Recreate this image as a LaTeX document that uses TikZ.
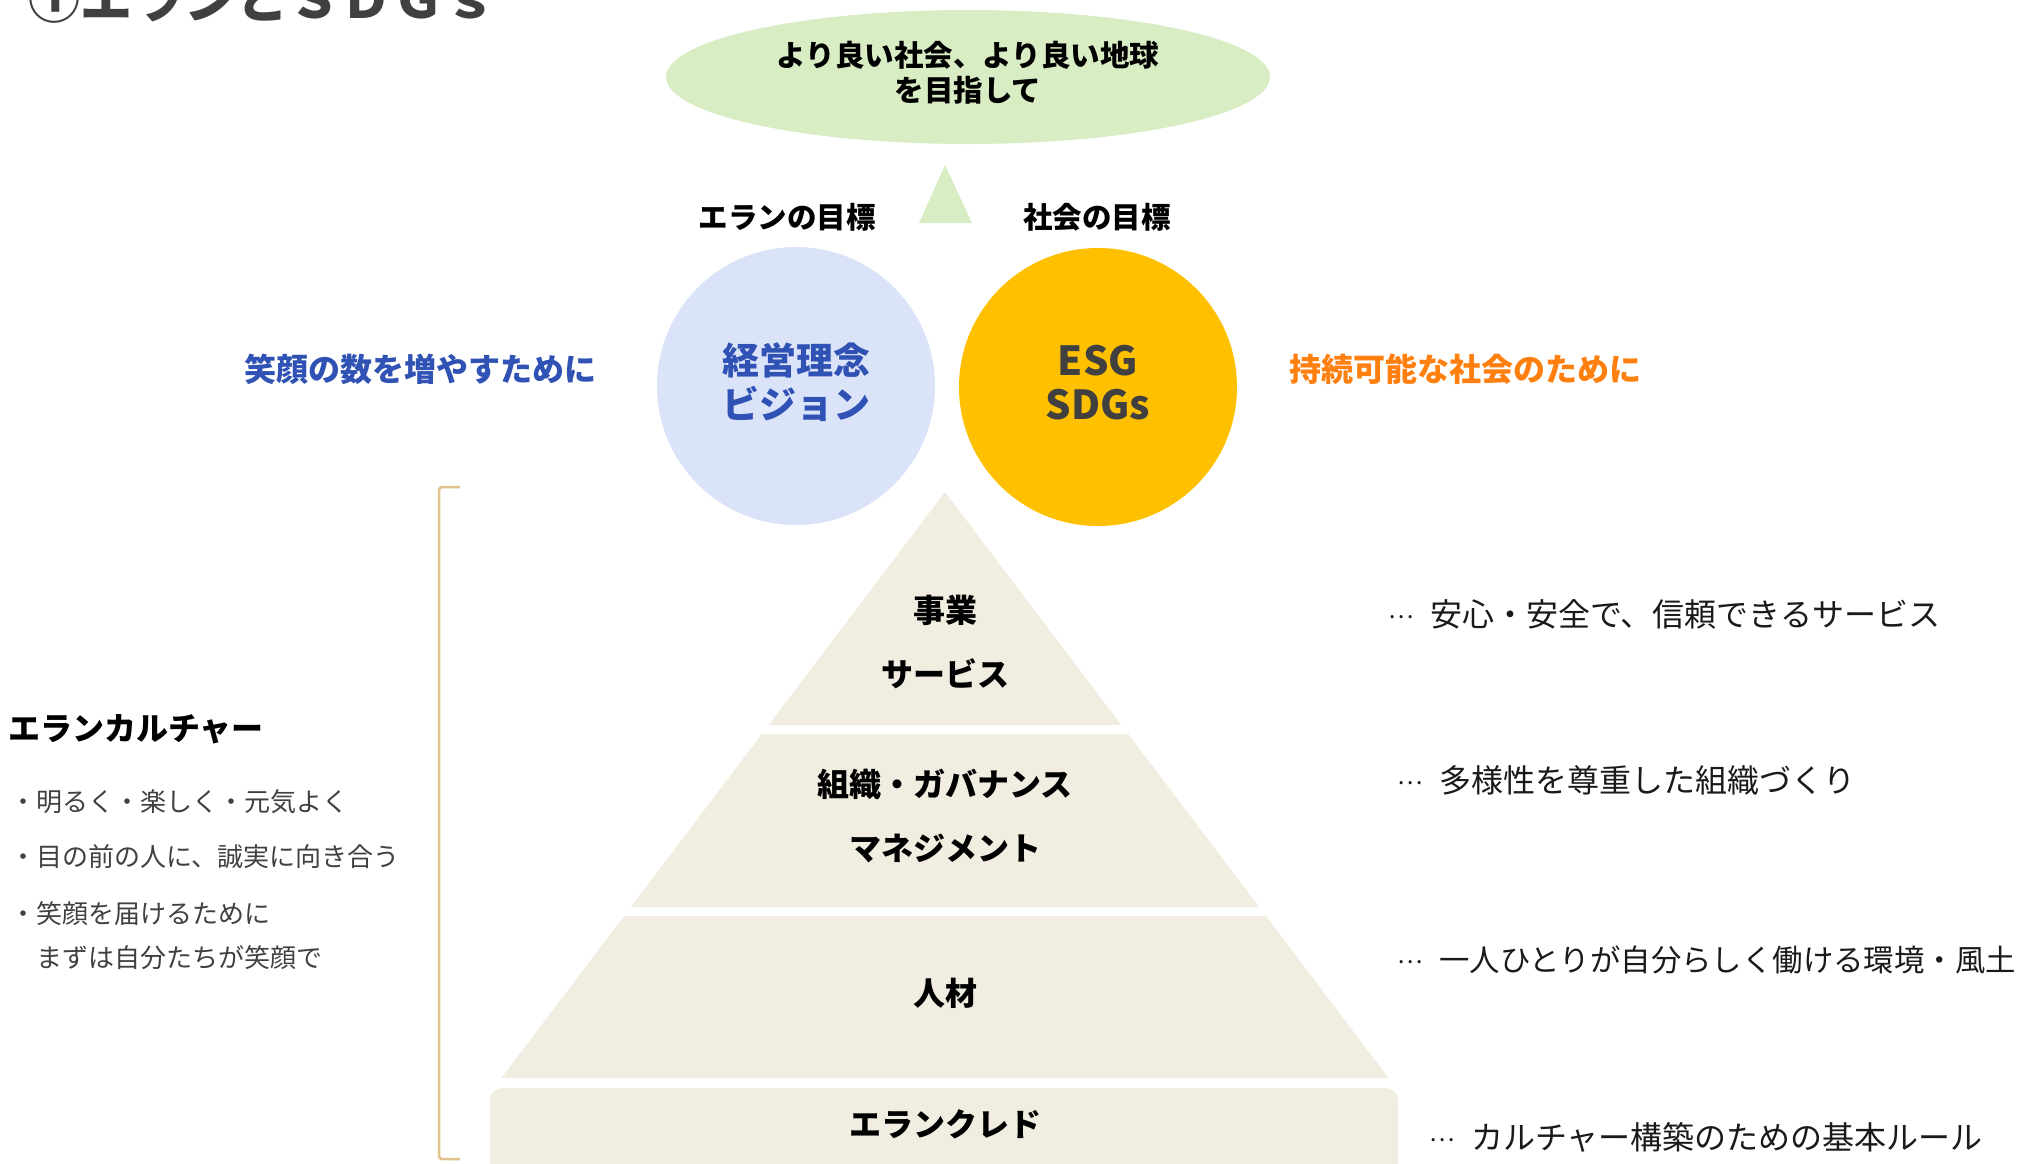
\documentclass[tikz,border=0pt]{standalone}
\usepackage{fontspec}
\setmainfont{Noto Sans CJK JP}
\newcommand\fsz[2]{\fontsize{#1bp}{#2bp}\selectfont}
\newcommand\dotsprefix{\makebox[42bp][l]{\raisebox{8bp}{\fsz{24}{30}…}}}
\definecolor{goalgreen}{RGB}{217,237,196}
\definecolor{visionblue}{RGB}{218,227,248}
\definecolor{sdgyellow}{RGB}{255,192,0}
\definecolor{txtblue}{RGB}{47,82,180}
\definecolor{txtorange}{RGB}{255,127,15}
\definecolor{pyrfill}{RGB}{242,237,225}
\definecolor{brackettan}{RGB}{226,195,140}
\definecolor{txtgray}{RGB}{64,64,64}
\definecolor{txtdark}{RGB}{26,26,26}
\tikzset{
  lbl/.style={inner sep=0pt, align=center},
  boldlbl/.style={lbl, font=\bfseries\fsz{32}{64}, text=black},
  desc/.style={inner sep=0pt, anchor=west, font=\fsz{32}{40}, text=txtdark},
  listitem/.style={inner sep=0pt, anchor=west, font=\fsz{26}{34}, text=txtgray},
  layer/.style={fill=pyrfill, draw=none},
}
\begin{document}
\begin{tikzpicture}[x=1bp,y=-1bp]
\useasboundingbox (0,0) rectangle (2024,1163);

% title
\node[inner sep=0pt, anchor=base west, font=\bfseries\fsz{52}{60}, text=txtgray] (title) at (28,18) {①エランとＳＤＧｓ};

% goal ellipse
\fill[goalgreen] (968,77) ellipse [x radius=302, y radius=67];
\node[lbl, font=\bfseries\fsz{29.5}{35}] (goal) at (968,73) {より良い社会、より良い地球\\を目指して};
\fill[goalgreen] (945,165) -- (972,223) -- (919,223) -- cycle;

% circles
\node[lbl, font=\bfseries\fsz{29.5}{35}] (elangoal) at (787,217) {エランの目標};
\node[lbl, font=\bfseries\fsz{29.5}{35}] (socgoal) at (1097,217) {社会の目標};
\fill[visionblue] (796,386) circle [radius=139];
\fill[sdgyellow] (1098,387) circle [radius=139];
\node[lbl, font=\bfseries\fsz{37}{44}, text=txtblue] (vision) at (796,382) {経営理念\\ビジョン};
\node[lbl, font=\bfseries\fsz{40}{44}, text=txtgray] (esg) at (1098,383) {ESG\\SDGs};
\node[lbl, font=\bfseries\fsz{32}{40}, text=txtblue] (smile) at (420,369) {笑顔の数を増やすために};
\node[lbl, font=\bfseries\fsz{32}{40}, text=txtorange] (sustain) at (1465,369) {持続可能な社会のために};

% pyramid
\path[layer] (945,492) -- (1121.4,725) -- (768.6,725) -- cycle;
\path[layer] (761.8,734) -- (1128.2,734) -- (1259.2,907) -- (630.8,907) -- cycle;
\path[layer] (624,916) -- (1266,916) -- (1388.6,1078) -- (501.4,1078) -- cycle;
\path[layer, rounded corners=12bp] (490,1088) rectangle (1398,1190);

\node[boldlbl] (biz) at (945,642) {事業\\サービス};
\node[boldlbl] (org) at (945,816) {組織・ガバナンス\\マネジメント};
\node[boldlbl] (people) at (945,993) {人材};
\node[boldlbl] (credo) at (945,1124) {エランクレド};

% descriptions
\node[desc] (d1) at (1388,614) {\dotsprefix 安心・安全で、信頼できるサービス};
\node[desc] (d2) at (1397,780) {\dotsprefix 多様性を尊重した組織づくり};
\node[desc, font=\fsz{30.4}{40}] (d3) at (1397,960) {\dotsprefix 一人ひとりが自分らしく働ける環境・風土};
\node[desc] (d4) at (1429,1137) {\dotsprefix カルチャー構築のための基本ルール};

% bracket
\draw[brackettan, line width=2.5bp, rounded corners=3bp] (460,487) -- (439,487) -- (439,1159) -- (460,1159);

% culture
\node[inner sep=0pt, anchor=west, font=\bfseries\fsz{32}{40}, text=black] (culture) at (8,729) {エランカルチャー};
\node[listitem] (c1) at (10,802) {・明るく・楽しく・元気よく};
\node[listitem] (c2) at (10,857) {・目の前の人に、誠実に向き合う};
\node[listitem] (c3) at (10,914) {・笑顔を届けるために};
\node[listitem] (c4) at (36,958) {まずは自分たちが笑顔で};
\end{tikzpicture}
\end{document}
